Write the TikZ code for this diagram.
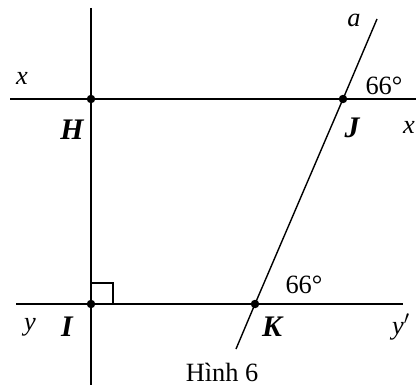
\documentclass[tikz,border=0pt]{standalone}
\usepackage{fontspec}
\setmainfont{Liberation Serif}
\usetikzlibrary{positioning}
\begin{document}
\begin{tikzpicture}[x=0.02cm, y=-0.02cm,
    line/.style={line width=0.8pt},
    dot/.style={circle, fill=black, inner sep=0pt, minimum size=0.17cm},
    varlbl/.style={font=\fontsize{15}{17}\selectfont\itshape, inner sep=0pt},
    ptlbl/.style={font=\fontsize{17}{19}\selectfont\bfseries\itshape, inner sep=0pt},
    anglbl/.style={font=\fontsize{15}{17}\selectfont, inner sep=0pt}
]
    \useasboundingbox (0,0) rectangle (416,385);

    % Points
    \coordinate (H) at (91,99);
    \coordinate (J) at (343,99);
    \coordinate (I) at (91,304);
    \coordinate (K) at (255,304);

    % Line ends
    \coordinate (xl) at (10,99);
    \coordinate (xr) at (416,99);
    \coordinate (yl) at (16,304);
    \coordinate (yr) at (403,304);
    \coordinate (vt) at (91,8);
    \coordinate (vb) at (91,385);
    \coordinate (at) at (377,19);
    \coordinate (ab) at (236,349);

    % Lines
    \draw[line] (xl) -- (H) -- (J) -- (xr);
    \draw[line] (yl) -- (I) -- (K) -- (yr);
    \draw[line] (vt) -- (H) -- (I) -- (vb);
    \draw[line] (at) -- (J) -- (K) -- (ab);

    % Right angle at I
    \draw[line, line width=0.6pt] (91,283) -| (113,304);

    % Dots
    \foreach \p in {H,J,I,K} {
        \node[dot] at (\p) {};
    }

    % Labels
    \node[varlbl] (lx) at (22,78) {x};
    \node[varlbl] (lxp) at (409,127) {x};
    \node[varlbl] (la) at (354,20) {a};
    \node[varlbl] (ly) at (30,327) {y};
    \node[varlbl] (lyp) at (401,327) {y$'$};
    \node[ptlbl] (lH) at (72,130) {H};
    \node[ptlbl] (lJ) at (352,128) {J};
    \node[ptlbl] (lI) at (67,327) {I};
    \node[ptlbl] (lK) at (272,327) {K};
    \node[anglbl] (a1) at (384,86) {66°};
    \node[anglbl] (a2) at (304,285) {66°};
    \node[anglbl] (cap) at (222,372) {Hình 6};
\end{tikzpicture}
\end{document}
